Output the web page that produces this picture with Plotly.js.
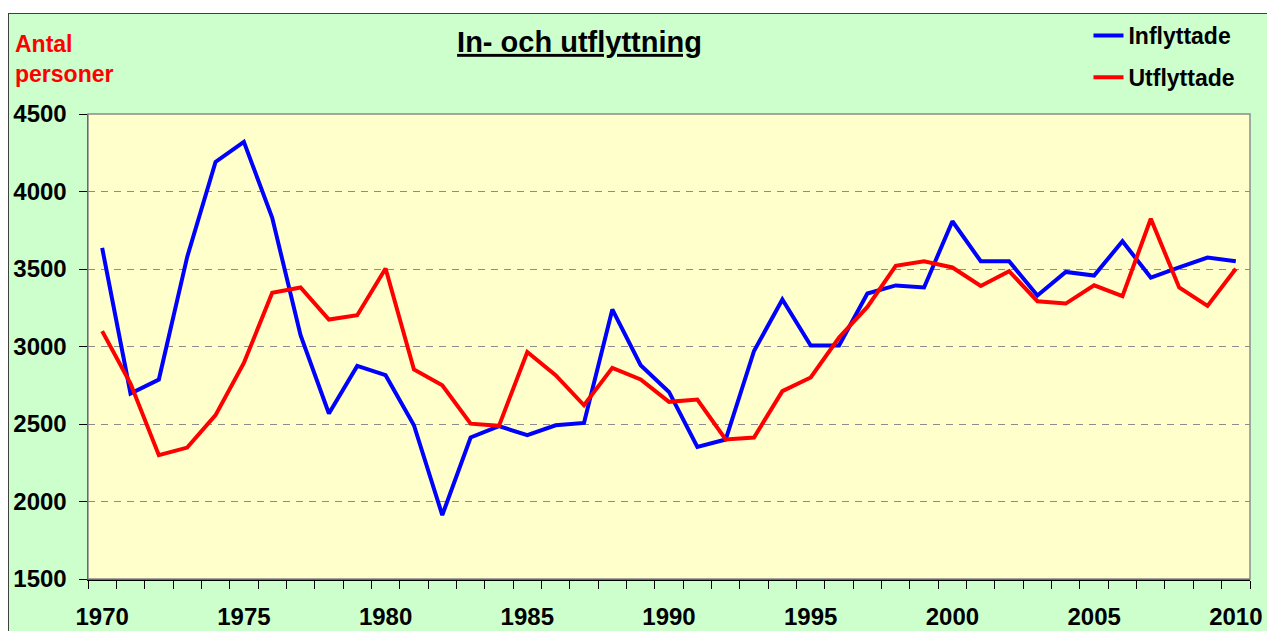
<!DOCTYPE html>
<html>
<head>
<meta charset="utf-8">
<script src="https://cdn.plot.ly/plotly-3.0.1.min.js"></script>
<style>
  html, body { margin: 0; padding: 0; background: #ffffff; overflow: hidden; }
  #chart {
    position: absolute; left: 8px; top: 13px;
    width: 1258px; height: 617px;
    border-left: 1px solid #404040; border-top: 1px solid #404040;
    background: #CCFFCC;
  }
</style>
</head>
<body>
<div id="chart"></div>
<script>
// Years (x categories)
const years = [1970, 1971, 1972, 1973, 1974, 1975, 1976, 1977, 1978, 1979,
               1980, 1981, 1982, 1983, 1984, 1985, 1986, 1987, 1988, 1989,
               1990, 1991, 1992, 1993, 1994, 1995, 1996, 1997, 1998, 1999,
               2000, 2001, 2002, 2003, 2004, 2005, 2006, 2007, 2008, 2009, 2010];

// Inflyttade (in-migration)
const inflyttade = [3636, 2697, 2787, 3578, 4191, 4320, 3830, 3073, 2568, 2875,
                    2815, 2492, 1912, 2413, 2486, 2428, 2492, 2507, 3239, 2879,
                    2707, 2352, 2400, 2971, 3303, 3006, 3006, 3342, 3394, 3381,
                    3808, 3550, 3550, 3329, 3481, 3458, 3679, 3445, 3510, 3574, 3550];

// Utflyttade (out-migration)
const utflyttade = [3099, 2761, 2299, 2348, 2557, 2894, 3346, 3381, 3174, 3202,
                    3503, 2852, 2750, 2502, 2488, 2965, 2815, 2621, 2862, 2787,
                    2643, 2658, 2400, 2413, 2712, 2800, 3058, 3255, 3520, 3550,
                    3510, 3391, 3486, 3292, 3277, 3395, 3325, 3824, 3381, 3262, 3502];

const seriesNames = ["Inflyttade", "Utflyttade"];
const titleText = "In- och utflyttning";
const yLabel = "Antal<br>personer";

const FONT = "Arial, 'Liberation Sans', sans-serif";

const traces = [
  {
    x: years, y: inflyttade, type: "scatter", mode: "lines",
    name: seriesNames[0], legendgroup: "a",
    line: { color: "#0000FF", width: 4 }
  },
  {
    x: years, y: utflyttade, type: "scatter", mode: "lines",
    name: seriesNames[1], legendgroup: "b",
    line: { color: "#FF0000", width: 4 }
  }
];

const layout = {
  width: 1258, height: 617,
  margin: { l: 79, r: 17, t: 100, b: 52 },
  paper_bgcolor: "#CCFFCC",
  plot_bgcolor: "#FFFFCC",
  font: { family: FONT, color: "#000000", size: 22, weight: "bold" },
  title: {
    text: titleText,
    font: { family: FONT, size: 29, color: "#000000", weight: "bold", lineposition: "under" },
    xref: "paper", x: 0.423, xanchor: "center",
    yref: "container", y: 0.955, yanchor: "middle"
  },
  showlegend: true,
  legend: {
    xref: "paper", x: 0.861, xanchor: "left",
    yref: "container", y: 1.0, yanchor: "top",
    bgcolor: "rgba(0,0,0,0)",
    font: { family: FONT, size: 23, color: "#000000", weight: "bold" },
    tracegroupgap: 9,
    traceorder: "grouped"
  },
  xaxis: {
    type: "linear",
    range: [1969.5, 2010.5],
    tickmode: "linear", tick0: 1970, dtick: 5,
    ticks: "",
    showgrid: false, zeroline: false,
    showline: true, linecolor: "#000000", linewidth: 1.5,
    tickfont: { family: FONT, size: 24, color: "#000000", weight: "bold" },
    ticklabelstandoff: 16,
    minor: { tickmode: "linear", tick0: 1969.5, dtick: 1, ticks: "outside", ticklen: 8, tickcolor: "#000000", tickwidth: 1, showgrid: false },
    fixedrange: true
  },
  yaxis: {
    range: [1500, 4500],
    tickmode: "linear", tick0: 1500, dtick: 500,
    ticks: "outside", ticklen: 8, tickcolor: "#000000", tickwidth: 1,
    showgrid: true, gridcolor: "#8c8c8c", gridwidth: 1, griddash: "7px,6px",
    zeroline: false,
    showline: true, linecolor: "#000000", linewidth: 1.5,
    tickfont: { family: FONT, size: 24, color: "#000000", weight: "bold" },
    ticklabelstandoff: 7,
    fixedrange: true
  },
  shapes: [
    { type: "rect", xref: "paper", yref: "paper", x0: 0, x1: 1, y0: 0, y1: 1,
      line: { color: "#8c8c8c", width: 1.5 }, fillcolor: "rgba(0,0,0,0)", layer: "above" }
  ],
  annotations: [
    { text: yLabel, xref: "paper", yref: "paper", x: -0.0645, xanchor: "left",
      y: 1.118, yanchor: "middle", align: "left", showarrow: false,
      font: { family: FONT, size: 23, color: "#FF0000", weight: "bold" } }
  ]
};

Plotly.newPlot("chart", traces, layout, { staticPlot: true, displayModeBar: false });
</script>
</body>
</html>
